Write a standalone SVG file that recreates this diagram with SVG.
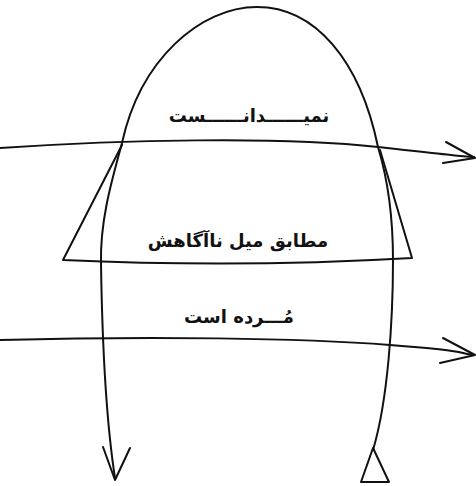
<svg xmlns="http://www.w3.org/2000/svg" width="476" height="486" viewBox="0 0 476 486">
<style>
.ln{fill:none;stroke:#111;stroke-width:2;stroke-linecap:round;stroke-linejoin:round}
.t{font-family:"DejaVu Sans","Noto Sans",sans-serif;font-weight:bold;font-size:18px;fill:#111;text-anchor:middle;direction:rtl}
</style>
<rect width="476" height="486" fill="#fff"/>
<g id="arch">
<path class="ln" d="M115,478 C106,420 102,330 101,263 C100,220 112,180 122,143 C140,60 200,7 257,7 C315,7 360,60 378,147 C388,180 393,220 393,260 C393,320 388,400 373,450"/>
<polyline class="ln" points="103,447 115,480 130,448"/>
<polygon class="ln" points="373,448 361,482 389,482"/>
</g>
<g id="trapezoid">
<path class="ln" d="M122,145 L63,260 Q240,268 412,258 L380,150"/>
</g>
<g id="connectors">
<path class="ln" d="M0,148 C120,140 280,136 378,147 S450,155 474,157"/>
<polyline class="ln" points="446,142 475,158 443,163"/>
<path class="ln" d="M0,340 C150,336 300,338 390,345 S450,352 474,355"/>
<polyline class="ln" points="443,338 475,355 440,363"/>
</g>
<g id="labels">
<text class="t" x="249" y="122">نمیــــــدانــــــست</text>
<text class="t" x="238" y="247">مطابق میل ناآگاهش</text>
<text class="t" x="239" y="323">مُـــرده است</text>
</g>
</svg>
